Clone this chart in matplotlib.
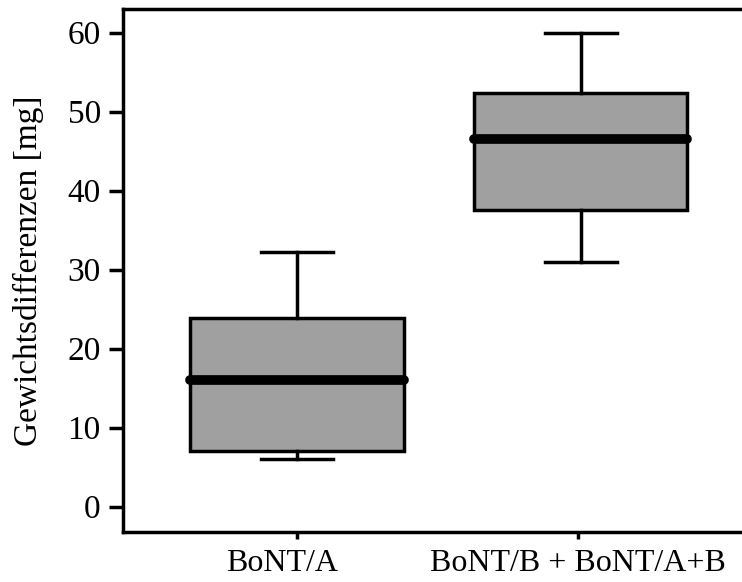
import matplotlib
matplotlib.use("Agg")
import matplotlib.pyplot as plt
from matplotlib.transforms import ScaledTranslation

# Daten
gruppen = ["BoNT/A", "BoNT/B + BoNT/A+B"]
whisker_unten = [6.0, 31.0]
q1 = [7.1, 37.6]
median = [16.0, 46.6]
q3 = [23.9, 52.4]
whisker_oben = [32.2, 60.0]
y_ticks = [0, 10, 20, 30, 40, 50, 60]

plt.rcParams["font.family"] = ["Liberation Serif", "DejaVu Serif"]

stats = []
for i, name in enumerate(gruppen):
    stats.append({
        "label": name,
        "whislo": whisker_unten[i],
        "q1": q1[i],
        "med": median[i],
        "q3": q3[i],
        "whishi": whisker_oben[i],
        "fliers": [],
    })

fig = plt.figure(figsize=(7.42, 5.82), dpi=100)
ax = fig.add_axes([123 / 742, 1 - 532 / 582, 1 - 123 / 742, (532 - 9) / 582])

ax.bxp(stats, positions=[0, 1.01], widths=0.76, patch_artist=True,
       showfliers=False,
       boxprops=dict(facecolor="#a0a0a0", edgecolor="black", linewidth=2.5),
       medianprops=dict(color="black", linewidth=7, solid_capstyle="round"),
       whiskerprops=dict(color="black", linewidth=2.5),
       capprops=dict(color="black", linewidth=2.5),
       capwidths=0.256)

ax.set_xlim(-0.619, 1.584)
ax.set_ylim(-3.2, 63.0)
ax.set_yticks(y_ticks)
ax.set_xticks([0, 1])
ax.set_xticklabels(gruppen)

ax.spines["right"].set_visible(False)
for s in ["left", "bottom", "top"]:
    ax.spines[s].set_linewidth(2.5)

ax.tick_params(axis="y", direction="out", length=10, width=2.5, pad=6, labelsize=24)
ax.tick_params(axis="x", direction="out", length=5, width=2.5, pad=7, labelsize=23)

# erste Beschriftung sitzt im Original etwas links vom Tick
lbl = ax.get_xticklabels()[0]
lbl.set_transform(lbl.get_transform() + ScaledTranslation(-0.15, 0, fig.dpi_scale_trans))

ax.set_ylabel("Gewichtsdifferenzen [mg]", fontsize=24, labelpad=17)

fig.savefig("out.png", dpi=100)
